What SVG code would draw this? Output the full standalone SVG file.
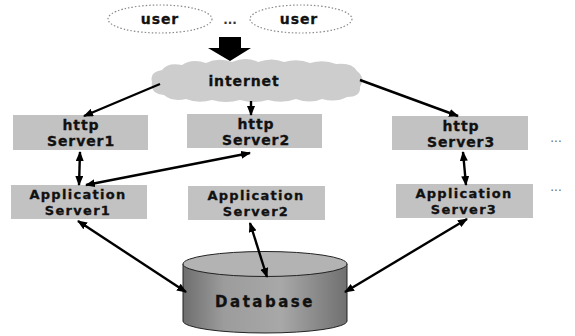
<svg xmlns="http://www.w3.org/2000/svg" width="575" height="336" viewBox="0 0 575 336">
  <style>
    .lbl { font-family: "DejaVu Sans", Verdana, sans-serif; font-weight: bold; font-size: 14px; letter-spacing: 0.9px; fill: #111; stroke: #111; stroke-width: 0.3px; text-anchor: middle; }
    .app { font-size: 13px; letter-spacing: 1.3px; }
    .box { fill: #c2c2c2; }
    .user { fill: none; stroke: #8a8a8a; stroke-width: 1.2; stroke-dasharray: 1.5 2; }
    .conn { stroke: #000; stroke-width: 2.4; fill: none; }
    .dots { font-family: "DejaVu Sans", sans-serif; font-size: 12px; fill: #666; text-anchor: middle; }
  </style>
  <defs>
    <marker id="ah" viewBox="0 0 10 8" refX="9" refY="4" markerWidth="10" markerHeight="8" markerUnits="userSpaceOnUse" orient="auto-start-reverse">
      <path d="M0,0 L10,4 L0,8 z" fill="#000"/>
    </marker>
    <linearGradient id="dbSide" x1="0" y1="0" x2="1" y2="0">
      <stop offset="0" stop-color="#6e6e6e"/>
      <stop offset="0.25" stop-color="#9c9c9c"/>
      <stop offset="0.6" stop-color="#a8a8a8"/>
      <stop offset="1" stop-color="#707070"/>
    </linearGradient>
  </defs>

  <!-- users -->
  <g id="user1">
    <ellipse class="user" cx="160" cy="19" rx="52" ry="14"/>
    <text class="lbl" x="160" y="24">user</text>
  </g>
  <text class="dots" x="230" y="24" style="fill:#333;font-weight:bold">...</text>
  <g id="user2">
    <ellipse class="user" cx="301" cy="19" rx="51" ry="14"/>
    <text class="lbl" x="299" y="24">user</text>
  </g>

  <!-- traffic from users into the internet -->
  <g id="bigArrow">
    <path d="M219,37 L241,37 L241,48 L251,48 L230,61 L208,48 L219,48 Z" fill="#000"/>
  </g>

  <!-- internet cloud -->
  <g id="internet">
    <path d="M152,82 Q149,72 162,70 Q168,62 182,65 Q192,58 206,63 Q218,57 232,62 Q246,56 258,62 Q272,57 284,62 Q298,58 310,63 Q324,59 336,64 Q352,62 357,71 Q366,78 360,87 Q361,97 347,97 Q336,103 322,99 Q310,104 296,99 Q282,104 268,100 Q254,104 240,100 Q226,104 212,100 Q198,104 186,99 Q172,102 164,95 Q150,94 152,82 Z" fill="#cdcdcd"/>
    <text class="lbl" x="244" y="86">internet</text>
  </g>

  <!-- web tier -->
  <g id="http1">
    <rect class="box" x="13" y="115" width="135" height="35"/>
    <text class="lbl" x="81" y="130">http</text>
    <text class="lbl" x="81" y="146">Server1</text>
  </g>
  <g id="http2">
    <rect class="box" x="187" y="114" width="135" height="34"/>
    <text class="lbl" x="256" y="129">http</text>
    <text class="lbl" x="256" y="145">Server2</text>
  </g>
  <g id="http3">
    <rect class="box" x="392" y="116" width="136" height="34"/>
    <text class="lbl" x="461" y="131">http</text>
    <text class="lbl" x="461" y="147">Server3</text>
  </g>
  <text class="dots" x="556" y="142">...</text>

  <!-- application tier -->
  <g id="app1">
    <rect class="box" x="11" y="185" width="136" height="34"/>
    <text class="lbl app" x="78" y="199">Application</text>
    <text class="lbl app" x="78" y="215">Server1</text>
  </g>
  <g id="app2">
    <rect class="box" x="188" y="186" width="137" height="34"/>
    <text class="lbl app" x="256" y="200">Application</text>
    <text class="lbl app" x="256" y="216">Server2</text>
  </g>
  <g id="app3">
    <rect class="box" x="396" y="184" width="137" height="34"/>
    <text class="lbl app" x="464" y="198">Application</text>
    <text class="lbl app" x="464" y="214">Server3</text>
  </g>
  <text class="dots" x="556" y="191">...</text>

  <!-- database -->
  <g id="database">
    <path d="M183,264 L183,321 A82,12 0 0 0 347,321 L347,264 Z" fill="url(#dbSide)" stroke="#222" stroke-width="1"/>
    <ellipse cx="265" cy="264" rx="82" ry="12.5" fill="#b3b3b3" stroke="#222" stroke-width="1"/>
    <text class="lbl" x="265" y="307" style="font-size:15px;letter-spacing:2.5px">Database</text>
  </g>

  <!-- connectors -->
  <g id="connectors">
    <line class="conn" x1="160" y1="84" x2="84" y2="116" marker-end="url(#ah)"/>
    <line class="conn" x1="251" y1="101" x2="251" y2="115" marker-end="url(#ah)"/>
    <line class="conn" x1="360" y1="80" x2="458" y2="116" marker-end="url(#ah)"/>
    <line class="conn" x1="80" y1="152" x2="79" y2="185" marker-start="url(#ah)" marker-end="url(#ah)"/>
    <line class="conn" x1="86" y1="185" x2="250" y2="153" marker-start="url(#ah)" marker-end="url(#ah)"/>
    <line class="conn" x1="463" y1="152" x2="466" y2="185" marker-start="url(#ah)" marker-end="url(#ah)"/>
    <line class="conn" x1="78" y1="221" x2="186" y2="292" marker-start="url(#ah)" marker-end="url(#ah)"/>
    <line class="conn" x1="250" y1="223" x2="267" y2="277" marker-start="url(#ah)" marker-end="url(#ah)"/>
    <line class="conn" x1="467" y1="219" x2="345" y2="292" marker-start="url(#ah)" marker-end="url(#ah)"/>
  </g>
</svg>
